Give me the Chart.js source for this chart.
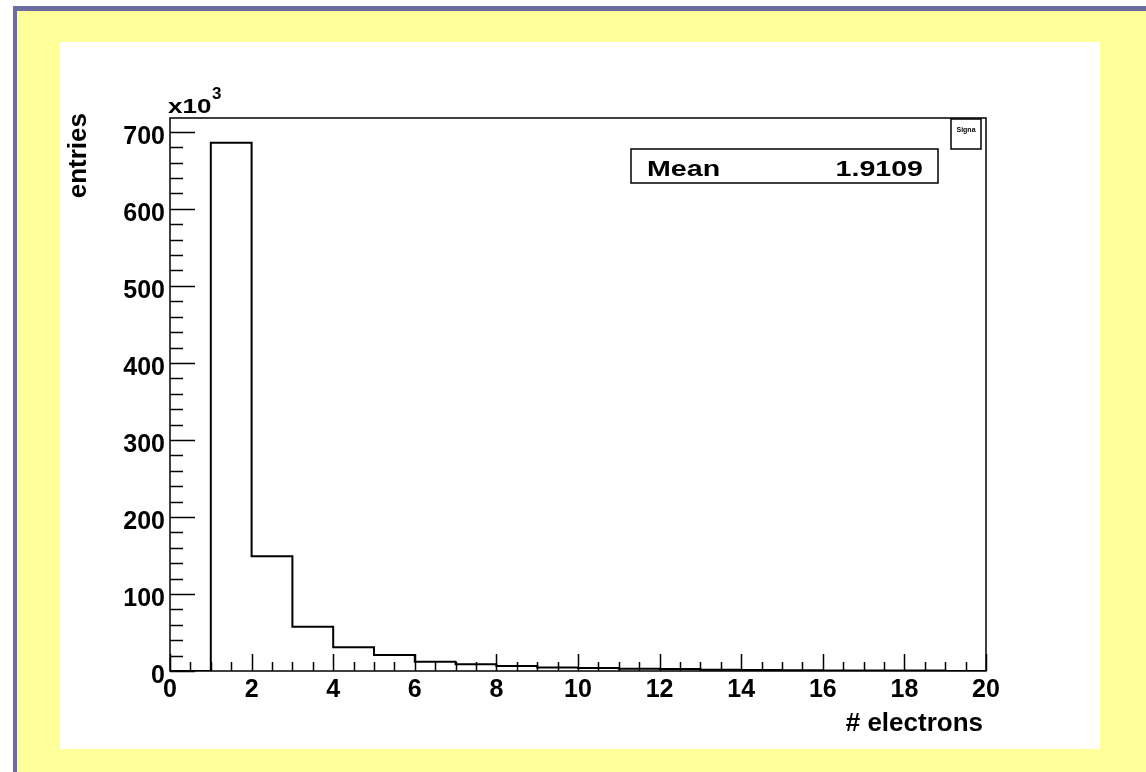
<!DOCTYPE html>
<html>
<head>
<meta charset="utf-8">
<title>electrons</title>
<script src="https://cdn.jsdelivr.net/npm/chart.js@4.4.1/dist/chart.umd.min.js"></script>
<style>
  html, body { margin: 0; padding: 0; background: #fff; }
  #frame {
    position: absolute; left: 13px; top: 6px; right: 0; bottom: 0;
    background: #ffff99;
    border-left: 4px solid #6c6ca0; border-top: 5px solid #6c6ca0;
  }
  #panel { position: absolute; left: 60px; top: 42px; width: 1040px; height: 707px; background: #fff; }
  #c { position: absolute; left: 0; top: 0; }
</style>
</head>
<body>
<div id="frame"></div>
<div id="panel"></div>
<canvas id="c" width="1146" height="772"></canvas>
<script>
// histogram: number of electrons per event, counts in units of 10^3
const binLow = [0, 1, 2, 3, 4, 5, 6, 7, 8, 9, 10, 11, 12, 13, 14, 15, 16, 17, 18, 19];
const counts = [0, 686, 149, 57.5, 30.8, 20.8, 12.1, 8.7, 6.5, 4.5, 4.0, 3.0, 2.5, 1.5, 1.2, 1.0, 0.8, 0.6, 0.5, 0];
const xRange = [0, 20];
const yRange = [0, 718];
const xTickValues = [0, 2, 4, 6, 8, 10, 12, 14, 16, 18, 20];
const yTickValues = [0, 100, 200, 300, 400, 500, 600, 700];
const meanText = '1.9109';

// step outline: one point per bin low edge, closed at the upper edge
const points = binLow.map((x, i) => ({ x: x, y: counts[i] }));
points.push({ x: xRange[1], y: 0 });

const FONT = '"Liberation Sans", Arial, Helvetica, sans-serif';

// ROOT-like frame, inner tick marks and annotations
const rootFrame = {
  id: 'rootFrame',
  afterDatasetsDraw(chart) {
    const { ctx, chartArea: a, scales: { x, y } } = chart;
    ctx.save();
    ctx.strokeStyle = '#000';
    ctx.lineWidth = 1.5;
    ctx.strokeRect(a.left, a.top, a.right - a.left, a.bottom - a.top);

    ctx.beginPath();
    for (let v = xRange[0]; v <= xRange[1] + 1e-9; v += 0.5) {
      const px = Math.round(x.getPixelForValue(v)) + 0.5;
      const major = xTickValues.includes(v);
      ctx.moveTo(px, a.bottom);
      ctx.lineTo(px, a.bottom - (major ? 17 : 9));
    }
    for (let v = 0; v <= yRange[1]; v += 20) {
      const py = Math.round(y.getPixelForValue(v)) + 0.5;
      const major = yTickValues.includes(v);
      ctx.moveTo(a.left, py);
      ctx.lineTo(a.left + (major ? 25 : 13), py);
    }
    ctx.stroke();

    // stats box
    ctx.lineWidth = 1.5;
    ctx.strokeRect(631, 149, 307, 34);
    ctx.fillStyle = '#000';
    ctx.font = 'bold 22px ' + FONT;
    ctx.textBaseline = 'alphabetic';
    ctx.save();
    ctx.translate(647, 176);
    ctx.scale(1.3, 1);
    ctx.textAlign = 'left';
    ctx.fillText('Mean', 0, 0);
    ctx.restore();
    ctx.save();
    ctx.translate(923, 176);
    ctx.scale(1.3, 1);
    ctx.textAlign = 'right';
    ctx.fillText(meanText, 0, 0);
    ctx.restore();

    // title box
    ctx.strokeRect(951, 119, 30, 30);
    ctx.font = 'bold 7px ' + FONT;
    ctx.textAlign = 'center';
    ctx.fillText('Signa', 966, 132);

    // exponent of the y axis
    ctx.textAlign = 'left';
    ctx.save();
    ctx.translate(168, 113);
    ctx.scale(1.3, 1);
    ctx.font = 'bold 20px ' + FONT;
    ctx.fillText('x10', 0, 0);
    ctx.restore();
    ctx.font = 'bold 17px ' + FONT;
    ctx.fillText('3', 212, 99);

    // axis titles
    ctx.font = 'bold 26px ' + FONT;
    ctx.textAlign = 'right';
    ctx.fillText('# electrons', 983, 731);
    ctx.save();
    ctx.translate(86, 113);
    ctx.rotate(-Math.PI / 2);
    ctx.textAlign = 'right';
    ctx.fillText('entries', 0, 0);
    ctx.restore();
    ctx.restore();
  }
};

const tickFont = { family: FONT, size: 25, weight: 'bold' };

new Chart(document.getElementById('c'), {
  type: 'line',
  data: {
    datasets: [{
      data: points,
      stepped: true,
      borderColor: '#000',
      borderWidth: 2,
      pointRadius: 0,
      fill: false
    }]
  },
  options: {
    responsive: false,
    animation: false,
    devicePixelRatio: 1,
    layout: { padding: { left: 60, right: 160, top: 118, bottom: 0 } },
    plugins: { legend: { display: false }, tooltip: { enabled: false } },
    scales: {
      x: {
        type: 'linear', min: xRange[0], max: xRange[1],
        grid: { display: false, drawTicks: false },
        border: { display: false },
        afterBuildTicks: s => { s.ticks = xTickValues.map(v => ({ value: v })); },
        ticks: { font: tickFont, color: '#000', padding: 4, maxRotation: 0, autoSkip: false },
        afterFit: s => { s.height = 101; }
      },
      y: {
        type: 'linear', min: yRange[0], max: yRange[1],
        grid: { display: false, drawTicks: false },
        border: { display: false },
        afterBuildTicks: s => { s.ticks = yTickValues.map(v => ({ value: v })); },
        ticks: { font: tickFont, color: '#000', padding: 5, labelOffset: 5, autoSkip: false },
        afterFit: s => { s.width = 110; }
      }
    }
  },
  plugins: [rootFrame]
});
</script>
</body>
</html>
